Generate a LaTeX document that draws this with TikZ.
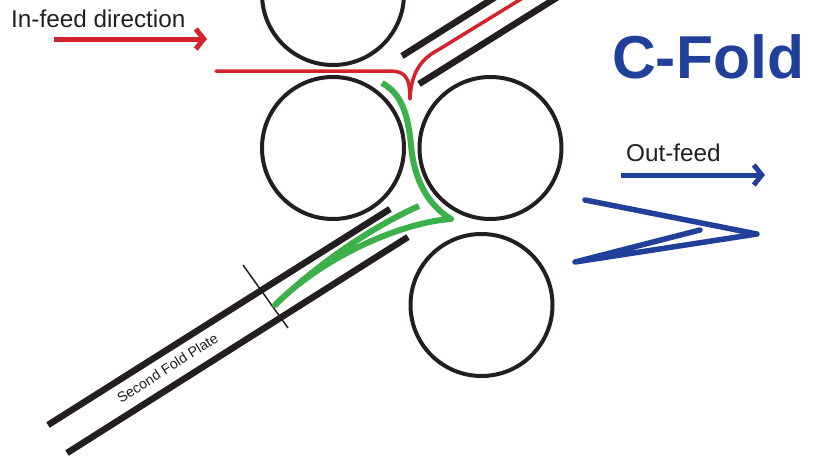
\documentclass[tikz,border=0pt]{standalone}
\usepackage{fontspec}
\setmainfont{Liberation Sans}
\usetikzlibrary{arrows.meta}
\definecolor{rollerblack}{RGB}{35, 31, 32}
\definecolor{feedred}{RGB}{210, 35, 42}
\definecolor{foldgreen}{RGB}{60, 176, 74}
\definecolor{foldblue}{RGB}{33, 64, 154}
\tikzset{
    roller/.style={circle, draw=rollerblack, line width=4pt, minimum size=142pt, inner sep=0pt, outer sep=0pt},
    plate/.style={draw=rollerblack, line width=6.5pt},
    label/.style={text=rollerblack, inner sep=0pt},
    feedarrow/.style={line width=5pt, -{Straight Barb[length=8pt, width=20pt, line width=5pt]}}
}

\begin{document}
\begin{tikzpicture}[x=1pt, y=-1pt]
    \useasboundingbox (0,0) rectangle (815,458);
    \clip (0,0) rectangle (815,458);

    % rollers
    \node[roller] (rollertop) at (333,-6) {};
    \node[roller] (rollerleft) at (333,148) {};
    \node[roller] (rollerright) at (490.5,148) {};
    \node[roller] (rollerlow) at (481.5,305) {};

    % first fold plate
    \draw[plate] (402,56) -- (497,-4);
    \draw[plate] (419,84) -- (561,-5);

    % second fold plate
    \draw[plate] (390,209) -- (48,425);
    \draw[plate] (408,237) -- (67,453);
    \draw[rollerblack, line width=1.5pt] (243,265) -- (288,328);
    \node[label, font=\fontsize{14.2}{17}\selectfont, rotate=32.3] (platelabel) at (167.5,368) {Second Fold Plate};

    % paper
    \draw[feedred, line width=3.5pt, line cap=round, line join=round]
        (216,71) -- (388,71)
        .. controls (403,71) and (410,74) .. (410,99)
        .. controls (411,78) and (417,61) .. (438,50)
        -- (526,-4);
    \draw[foldgreen, line width=6pt, line join=round]
        (382,83) .. controls (402,94) and (408,115) .. (411,145)
        .. controls (414,180) and (428,205) .. (451,219)
        .. controls (405,222) and (326,254) .. (275,305)
        .. controls (320,262) and (374,226) .. (419,206);

    % in-feed
    \coordinate (infeedstart) at (54,39);
    \coordinate (infeedend) at (207,39);
    \draw[feedarrow, feedred] (infeedstart) -- (infeedend);
    \node[label, anchor=west, font=\fontsize{24.3}{29}\selectfont] (infeedlabel) at (11,19) {In-feed direction};

    % out-feed
    \coordinate (outfeedstart) at (621,175);
    \coordinate (outfeedend) at (765,175);
    \draw[feedarrow, foldblue] (outfeedstart) -- (outfeedend);
    \node[label, anchor=west, font=\fontsize{24.3}{29}\selectfont] (outfeedlabel) at (626,153) {Out-feed};

    \draw[foldblue, line width=5.5pt, line cap=round, line join=round]
        (585,200) -- (757,234) -- (575,262) -- (700,230);

    \node[anchor=west, inner sep=0pt, text=foldblue, font=\fontsize{60.6}{70}\selectfont\bfseries] (foldtitle) at (612,57) {C-Fold};
\end{tikzpicture}
\end{document}
